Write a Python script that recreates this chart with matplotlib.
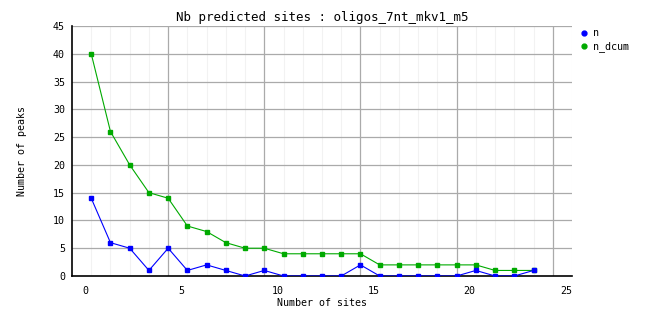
import matplotlib
matplotlib.use('Agg')
import matplotlib.pyplot as plt
import matplotlib.transforms as mtransforms
from matplotlib.lines import Line2D
import numpy as np

plt.rcParams['font.family'] = ['DejaVu Sans Mono']

# data
sites = list(range(1, 25))
n = [14, 6, 5, 1, 5, 1, 2, 1, 0, 1, 0, 0, 0, 0, 2, 0, 0, 0, 0, 0, 1, 0, 0, 1]
n_dcum = [40, 26, 20, 15, 14, 9, 8, 6, 5, 5, 4, 4, 4, 4, 4, 2, 2, 2, 2, 2, 2, 1, 1, 1]
xticks = [0, 5, 10, 15, 20, 25]
yticks = [0, 5, 10, 15, 20, 25, 30, 35, 40, 45]

blue = '#0000ff'
green = '#00aa00'

fig = plt.figure(figsize=(6.62, 3.28), dpi=100)
ax = fig.add_axes([72/662, 52/328, 500/662, 250/328])

ax.set_xlim(0, 26)
ax.set_ylim(0, 45)

# grid
for x in range(1, 27):
    if x % 5 != 0:
        ax.axvline(x, color='#f2f2f2', lw=0.8, zorder=0)
for x in xticks[1:]:
    ax.axvline(x, color='#aaaaaa', lw=0.9, zorder=0)
for y in yticks[1:]:
    ax.axhline(y, color='#aaaaaa', lw=0.9, zorder=0)

ax.plot(sites, n, color=blue, lw=0.8, marker='s', ms=2.2, zorder=3)
ax.plot(sites, n_dcum, color=green, lw=0.8, marker='s', ms=2.2, zorder=2)

for s in ['top', 'right']:
    ax.spines[s].set_visible(False)
ax.spines['left'].set_linewidth(1.2)
ax.spines['bottom'].set_linewidth(1.2)

ax.set_xticks(xticks)
ax.set_yticks(yticks)
ax.tick_params(length=0, labelsize=7.2)
ax.tick_params(axis='x', pad=7)
ax.tick_params(axis='y', pad=5)
off = mtransforms.ScaledTranslation(13/100, 0, fig.dpi_scale_trans)
for lab in ax.get_xticklabels():
    lab.set_transform(lab.get_transform() + off)

ax.set_xlabel('Number of sites', fontsize=7.2, labelpad=2)
ax.set_ylabel('Number of peaks', fontsize=7.2, labelpad=19)
fig.text(322/662, 1 - 17/328, 'Nb predicted sites : oligos_7nt_mkv1_m5',
         ha='center', va='center', fontsize=9)

handles = [Line2D([], [], color=blue, marker='o', ls='none', ms=3.5),
           Line2D([], [], color=green, marker='o', ls='none', ms=3.5)]
fig.legend(handles, ['n', 'n_dcum'], loc='upper left',
           bbox_to_anchor=(576/662, 1 - 23/328), frameon=False,
           fontsize=7.2, handlelength=0.6, handletextpad=0.6,
           labelspacing=0.35, borderpad=0)

fig.savefig('out.png', dpi=100)
